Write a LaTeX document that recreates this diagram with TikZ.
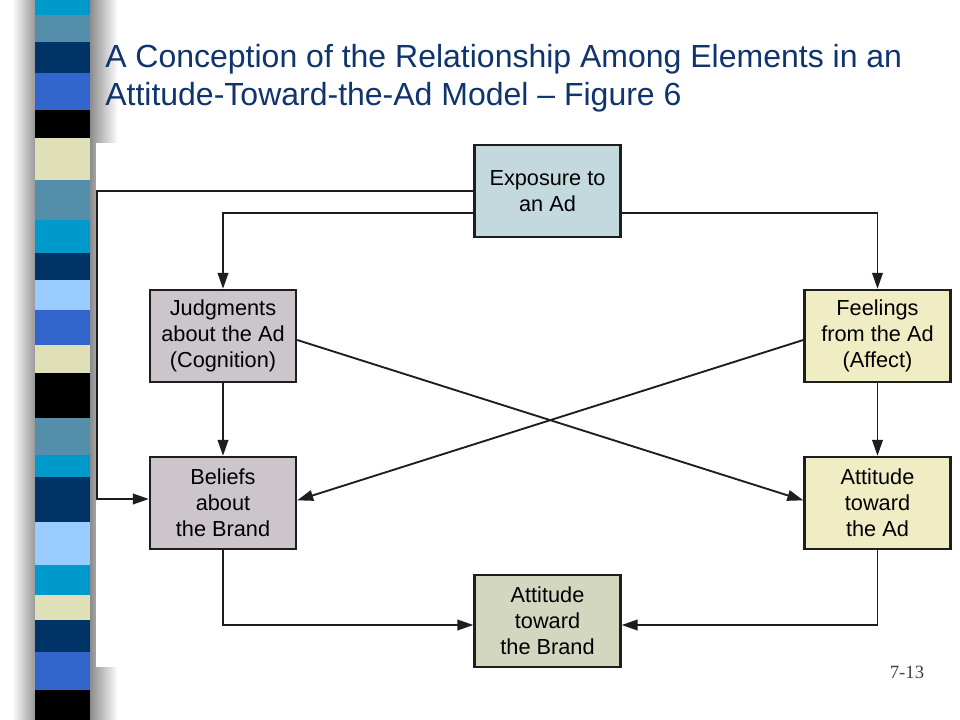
\documentclass[tikz,border=0pt]{standalone}
\usepackage{fontspec}
\setmainfont{Liberation Sans}
\newfontfamily\numfont{Liberation Serif}
\usetikzlibrary{arrows.meta}

\begin{document}
\begin{tikzpicture}
	[x=0.75pt,y=-0.75pt,line cap=butt,
	%Styles
	box/.style={draw=boxline,line width=1.8pt,fill=#1,minimum width=109.5pt,minimum height=69pt,inner sep=0pt,align=center,font=\fontsize{16.3}{19.5}\selectfont},
	link/.style={draw=boxline,line width=1.4pt},
	arrow/.style={link,-{Triangle[length=12pt,width=8pt]}},
	title text/.style={anchor=base west,inner sep=0pt,text=titleblue,font=\fontsize{24}{28.5}\selectfont}
	]
	
	%Colors
	\definecolor{titleblue}{RGB}{16,52,110}
	\definecolor{boxline}{RGB}{30,30,30}
	\definecolor{expofill}{RGB}{195,217,222}
	\definecolor{cogfill}{RGB}{204,198,204}
	\definecolor{affectfill}{RGB}{240,236,196}
	\definecolor{brandfill}{RGB}{212,215,192}
	\definecolor{stripecyan}{RGB}{0,153,204}
	\definecolor{stripesteel}{RGB}{85,142,170}
	\definecolor{stripenavy}{RGB}{0,51,102}
	\definecolor{striperoyal}{RGB}{51,102,204}
	\definecolor{stripecream}{RGB}{224,224,184}
	\definecolor{stripelight}{RGB}{153,204,255}
	
	%Background and left bar
	\useasboundingbox[fill=white] (0,0) rectangle (960,720);
	\shade[left color=white,right color=black!40] (12,0) rectangle (35,720);
	\shade[left color=black!45,right color=white] (90,0) rectangle (118,720);
	\fill[white] (96,143) rectangle (960,667);
	\foreach \ya/\yb/\c in {0/15/stripecyan, 15/42/stripesteel, 42/73/stripenavy, 73/110/striperoyal,
		110/138/black, 138/180/stripecream, 180/220/stripesteel, 220/253/stripecyan,
		253/280/stripenavy, 280/310/stripelight, 310/345/striperoyal, 345/373/stripecream,
		373/418/black, 418/455/stripesteel, 455/477/stripecyan, 477/522/stripenavy,
		522/565/stripelight, 565/595/stripecyan, 595/620/stripecream, 620/652/stripenavy,
		652/690/striperoyal, 690/720/black}
		\fill[\c] (35,\ya) rectangle (90,\yb);
	
	%Title
	\node[title text] (title1) at (105,68) {A Conception of the Relationship Among Elements in an};
	\node[title text] (title2) at (105,106) {Attitude-Toward-the-Ad Model – Figure 6};
	
	%The graphic
	\node[box=expofill] (expo) at (547.5,191) {Exposure to\\an Ad};
	\node[box=cogfill] (judg) at (223,336) {Judgments\\about the Ad\\(Cognition)};
	\node[box=affectfill] (feel) at (877.5,336) {Feelings\\from the Ad\\(Affect)};
	\node[box=cogfill] (beli) at (223,503) {Beliefs\\about\\the Brand};
	\node[box=affectfill] (aad) at (877.5,503) {Attitude\\toward\\the Ad};
	\node[box=brandfill] (brand) at (547.5,621) {Attitude\\toward\\the Brand};
	
	\coordinate (loop) at (97,400);
	
	\draw[arrow] (expo.west) -| (loop) |- ([yshift=3pt]beli.west);
	\draw[arrow] ([yshift=-16.5pt]expo.west) -| (judg.north);
	\draw[arrow] ([yshift=-16.5pt]expo.east) -| (feel.north);
	\draw[arrow] (judg) -- (beli);
	\draw[arrow] (feel) -- (aad);
	\draw[arrow] ([yshift=-3pt]judg.east) -- ([yshift=2pt]aad.west);
	\draw[arrow] ([yshift=-3pt]feel.west) -- ([yshift=2pt]beli.east);
	\draw[arrow] (beli.south) |- ([yshift=-3pt]brand.west);
	\draw[arrow] (aad.south) |- ([yshift=-3pt]brand.east);
	
	\node[font=\numfont\fontsize{14}{16}\selectfont,text=black!75,anchor=base] (pagenum) at (907,678) {7-13};
\end{tikzpicture}
\end{document}
